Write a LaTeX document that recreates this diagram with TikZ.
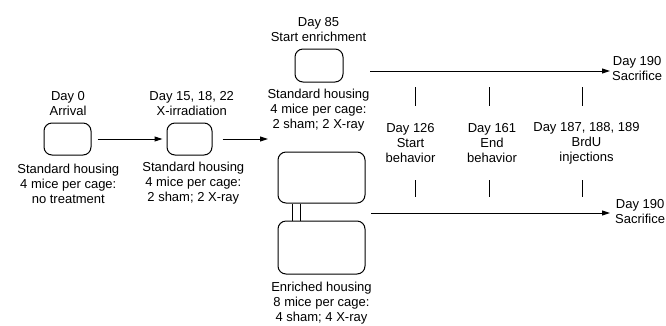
\documentclass[tikz,border=0pt]{standalone}
\usepackage{fontspec}
\setmainfont{Liberation Sans}
\usetikzlibrary{arrows.meta}
\begin{document}
\begin{tikzpicture}[x=1pt,y=-1pt,
  every node/.style={font=\fontsize{13}{15}\selectfont},
  cage/.style={draw,line width=1pt,rounded corners=8pt,inner sep=0pt},
  lbl/.style={align=center,inner sep=0pt},
  arr/.style={line width=1pt,-{Triangle[length=8pt,width=5pt]}},
  tick/.style={line width=1pt}]
\useasboundingbox (0,0) rectangle (666,325);
% cages
\node[cage,minimum width=47pt,minimum height=32pt] (box1) at (67.5,139) {};
\node[cage,minimum width=45pt,minimum height=32pt] (box2) at (189.5,139) {};
\node[cage,minimum width=48pt,minimum height=33pt] (box3) at (319,65.5) {};
\node[cage,minimum width=87pt,minimum height=51pt] (ebA) at (321.5,177.5) {};
\node[cage,minimum width=87pt,minimum height=53pt] (ebB) at (321.5,247.5) {};
\draw[line width=1pt] ([xshift=-29.5pt]ebA.south) -- ([xshift=-29.5pt]ebB.north);
\draw[line width=1pt] ([xshift=-21.5pt]ebA.south) -- ([xshift=-21.5pt]ebB.north);
% labels
\node[lbl] (l0) at (68,104) {Day 0\\Arrival};
\node[lbl] (l0b) at (68.3,183.5) {Standard housing\\4 mice per cage:\\no treatment};
\node[lbl] (l1) at (191.7,104) {Day 15, 18, 22\\X-irradiation};
\node[lbl] (l1b) at (193.3,183.5) {Standard housing\\4 mice per cage:\\2 sham; 2 X-ray};
\node[lbl] (l2) at (318.5,29.5) {Day 85\\Start enrichment};
\node[lbl] (l2b) at (318.5,110) {Standard housing\\4 mice per cage:\\2 sham; 2 X-ray};
\node[lbl] (l3) at (321.5,303) {Enriched housing\\8 mice per cage:\\4 sham; 4 X-ray};
\node[lbl] (m1) at (410.5,143) {Day 126\\Start\\behavior};
\node[lbl] (m2) at (492,143) {Day 161\\End\\behavior};
\node[lbl] (m3) at (586.5,143) {Day 187, 188, 189\\BrdU\\injections};
% connectors
\coordinate (j) at (268,139);
\draw[arr,shorten <=6pt,shorten >=4pt] (box1) -- (box2);
\draw[arr,shorten <=10pt] (box2) -- (j);
\coordinate (tA) at (370,71);
\coordinate (tB) at (610,71);
\coordinate (bA) at (371,213);
\coordinate (bB) at (610,213);
\draw[arr] (tA) -- (tB);
\draw[arr] (bA) -- (bB);
\node[lbl,anchor=west] (s1) at ([xshift=2pt,yshift=2pt]tB) {Day 190\\Sacrifice};
\node[lbl,anchor=west] (s2) at ([xshift=5pt,yshift=1pt]bB) {Day 190\\Sacrifice};
% ticks
\foreach \n/\x in {a/415,b/489,c/582}{
  \coordinate (tt\n) at (\x,87);
  \coordinate (tb\n) at (\x,106);
  \coordinate (bt\n) at (\x,180);
  \coordinate (bb\n) at (\x,197);
  \draw[tick] (tt\n) -- (tb\n);
  \draw[tick] (bt\n) -- (bb\n);
}
\end{tikzpicture}
\end{document}
